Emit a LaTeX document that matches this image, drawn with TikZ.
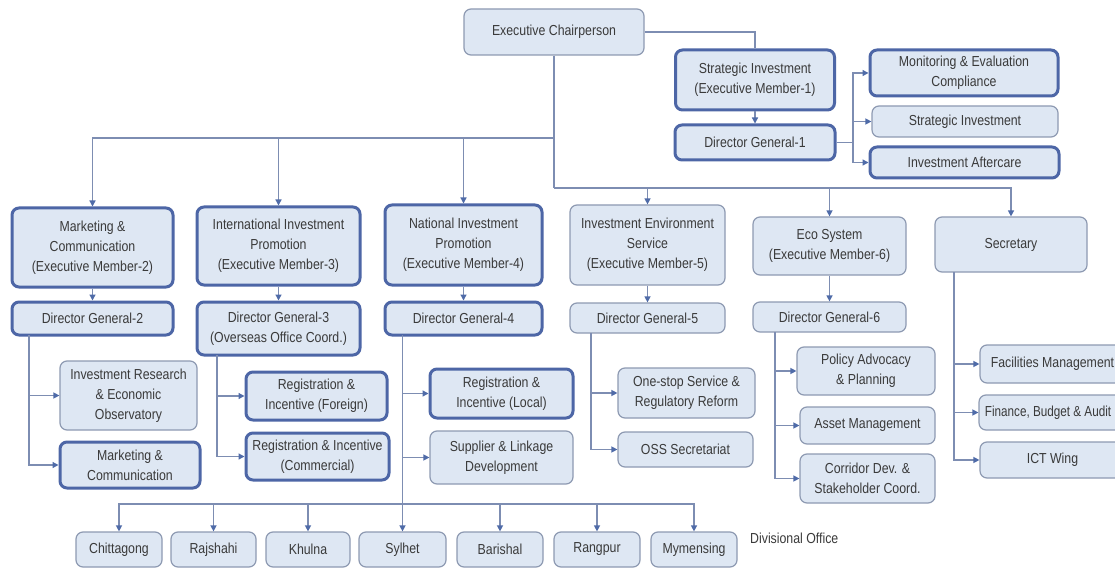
\documentclass[tikz,border=0pt]{standalone}
\usepackage{fontspec}
\usepackage{graphicx}
\setmainfont{Liberation Sans}[FakeStretch=0.85]
\usetikzlibrary{arrows.meta}
\definecolor{boxfill}{HTML}{DEE7F3}
\definecolor{thinline}{HTML}{8E9AB2}
\definecolor{thickline}{HTML}{4D66A6}
\definecolor{connc}{HTML}{7D8DB2}
\definecolor{tipc}{HTML}{4F6BA8}
\definecolor{txt}{HTML}{3A3A3A}
\tikzset{
  box/.style={draw=thinline, line width=1.2pt, fill=boxfill, rounded corners=7pt, align=center,
    inner sep=0pt, font=\fontsize{14.5}{20}\selectfont, text=txt},
  bold/.style={box, draw=thickline, line width=3pt},
  conn/.style={draw=connc, line width=1.3pt},
  arr/.style={conn, -{Triangle[length=6pt,width=6pt,color=tipc]}},
  lbl/.style={font=\fontsize{14.5}{20}\selectfont, text=txt, inner sep=0pt},
}
\begin{document}
\begin{tikzpicture}[x=1pt,y=-1pt]
\useasboundingbox[fill=white] (0,0) rectangle (1115,569);

% top
\node[box, minimum width=180pt, minimum height=46pt] (ec) at (554,32) {Executive Chairperson};
\node[bold, minimum width=159pt, minimum height=60pt] (em1) at (755,80) {Strategic Investment\\(Executive Member-1)};
\node[bold, minimum width=160pt, minimum height=35pt] (dg1) at (755,142.5) {Director General-1};
\node[bold, minimum width=188pt, minimum height=46pt] (mec) at (964,73) {Monitoring \& Evaluation\\Compliance};
\node[box, minimum width=186pt, minimum height=31pt] (si2) at (965,121.5) {Strategic Investment};
\node[bold, minimum width=189pt, minimum height=31pt] (ia) at (964.5,162.5) {Investment Aftercare};

% members
\node[bold, minimum width=161pt, minimum height=79pt] (em2) at (92.5,247.5) {Marketing \&\\Communication\\(Executive Member-2)};
\node[bold, minimum width=161pt, minimum height=33pt] (dg2) at (92.5,318.5) {Director General-2};
\node[bold, minimum width=163pt, minimum height=78pt] (em3) at (278.5,246) {International Investment\\Promotion\\(Executive Member-3)};
\node[bold, minimum width=163pt, minimum height=53pt] (dg3) at (278.5,328.5) {Director General-3\\(Overseas Office Coord.)};
\node[bold, minimum width=157pt, minimum height=80pt] (em4) at (463.5,245) {National Investment\\Promotion\\(Executive Member-4)};
\node[bold, minimum width=157pt, minimum height=33pt] (dg4) at (463.5,318.5) {Director General-4};
\node[box, minimum width=155pt, minimum height=80pt] (em5) at (647.5,245) {Investment Environment\\Service\\(Executive Member-5)};
\node[box, minimum width=155pt, minimum height=30pt] (dg5) at (647.5,318) {Director General-5};
\node[box, minimum width=153pt, minimum height=58pt] (em6) at (829.5,246) {Eco System\\(Executive Member-6)};
\node[box, minimum width=153pt, minimum height=30pt] (dg6) at (829.5,317) {Director General-6};
\node[box, minimum width=152pt, minimum height=55pt] (sec) at (1011,244.5) {Secretary};

% units
\node[box, minimum width=137pt, minimum height=69pt] (ire) at (128.5,395.5) {Investment Research\\\& Economic\\Observatory};
\node[bold, minimum width=140pt, minimum height=46pt] (mc2) at (130,465) {Marketing \&\\Communication};
\node[bold, minimum width=141pt, minimum height=48pt] (rif) at (316.5,396) {Registration \&\\Incentive (Foreign)};
\node[bold, minimum width=143pt, minimum height=47pt] (ric) at (317.5,456.5) {Registration \& Incentive\\(Commercial)};
\node[bold, minimum width=143pt, minimum height=49pt] (ril) at (501.5,393.5) {Registration \&\\Incentive (Local)};
\node[box, minimum width=143pt, minimum height=53pt] (sld) at (501.5,457.5) {Supplier \& Linkage\\Development};
\node[box, minimum width=137pt, minimum height=50pt] (osr) at (686.5,393) {One-stop Service \&\\Regulatory Reform};
\node[box, minimum width=135pt, minimum height=35pt] (oss) at (685.5,449.5) {OSS Secretariat};
\node[box, minimum width=138pt, minimum height=48pt] (pap) at (866,371) {Policy Advocacy\\\& Planning};
\node[box, minimum width=135pt, minimum height=37pt] (am) at (867.5,425.5) {Asset Management};
\node[box, minimum width=135pt, minimum height=49pt] (cds) at (867.5,478.5) {Corridor Dev. \&\\Stakeholder Coord.};
\node[box, minimum width=145pt, minimum height=38pt] (fm) at (1052.5,364) {Facilities Management};
\node[box, minimum width=146pt, minimum height=35pt] (fba) at (1052,412.5) {\scalebox{0.95}[1]{Finance, Budget \& Audit}\hspace*{8pt}};
\node[box, minimum width=145pt, minimum height=36pt] (ict) at (1052.5,460) {ICT Wing};

% divisional offices
\foreach \n/\x/\w/\t in {chi/119/86/Chittagong, raj/213.5/85/Rajshahi, khu/308/84/Khulna, syl/402.5/87/Sylhet, bar/500/86/Barishal, ran/597/86/Rangpur, mym/694/86/Mymensing}
  \node[box, minimum width=\w pt, minimum height=35pt] (\n) at (\x,549.5) {\t};
\node[lbl, anchor=west] (divo) at (750,538) {Divisional Office};

% connectors: top
\draw[conn] (ec.east) -| (em1.north);
\draw[arr] (em1) -- (dg1);
\coordinate (k1) at (853,142.5);
\draw[conn] (dg1.east) -- (k1);
\draw[arr] (k1) |- (mec.west);
\draw[arr] (k1) |- (si2.west);
\draw[arr] (k1) |- (ia.west);

\coordinate (t1) at (554,138);
\coordinate (t2) at (554,188);
\draw[conn] (ec.south) -- (t2);
\draw[arr] (t1) -| (em2.north);
\draw[arr] (t1) -| (em3.north);
\draw[arr] (t1) -| (em4.north);
\draw[arr] (t2) -| (em5.north);
\draw[arr] (t2) -| (em6.north);
\draw[arr] (t2) -| (sec.north);

\draw[arr] (em2) -- (dg2);
\draw[arr] (em3) -- (dg3);
\draw[arr] (em4) -- (dg4);
\draw[arr] (em5) -- (dg5);
\draw[arr] (em6) -- (dg6);

% branches
\coordinate (b2) at (29,335);
\draw[arr] (b2) |- (ire.west);
\draw[arr] (b2) |- (mc2.west);
\coordinate (b3) at (217,355);
\draw[arr] (b3) |- (rif.west);
\draw[arr] (b3) |- (ric.west);
\coordinate (b4) at (402.5,335);
\draw[arr] (b4) |- (ril.west);
\draw[arr] (b4) |- (sld.west);
\draw[arr] (b4) -- (syl.north);
\coordinate (b5) at (591,333);
\draw[arr] (b5) |- (osr.west);
\draw[arr] (b5) |- (oss.west);
\coordinate (b6) at (775,332);
\draw[arr] (b6) |- (pap.west);
\draw[arr] (b6) |- (am.west);
\draw[arr] (b6) |- (cds.west);
\coordinate (b7) at (954,272);
\draw[arr] (b7) |- (fm.west);
\draw[arr] (b7) |- (fba.west);
\draw[arr] (b7) |- (ict.west);

\coordinate (dv) at (402.5,504);
\foreach \n in {chi,raj,khu,bar,ran,mym}
  \draw[arr] (dv) -| (\n.north);
\end{tikzpicture}
\end{document}
